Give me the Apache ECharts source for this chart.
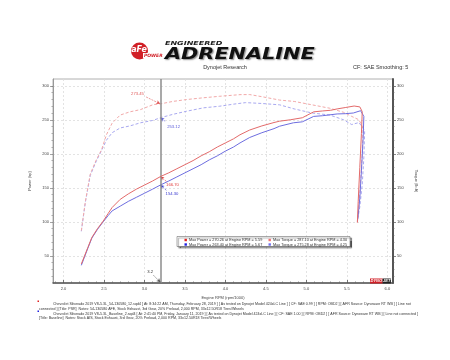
<!DOCTYPE html>
<html><head><meta charset="utf-8">
<script src="https://cdn.jsdelivr.net/npm/echarts@6/dist/echarts.min.js"></script>
<style>html,body{margin:0;padding:0;background:#fff}#c{width:450px;height:360px}</style>
</head><body><div id="c"></div>
<script>
// ---- data ----
const xMajor = [2.0,2.5,3.0,3.5,4.0,4.5,5.0,5.5,6.0];
const xMinor = [1.9,2.1,2.2,2.3,2.4,2.6,2.7,2.8,2.9,3.1,3.2,3.3,3.4,3.6,3.7,3.8,3.9,4.1,4.2,4.3,4.4,4.6,4.7,4.8,4.9,5.1,5.2,5.3,5.4,5.6,5.7,5.8,5.9,6.0];
const yMajor = [50,100,150,200,250,300];
const yMinor = [20,30,40,60,70,80,90,110,120,130,140,160,170,180,190,210,220,230,240,260,270,280,290,300];

const rpmPowA = [2.22,2.30,2.35,2.42,2.49,2.55,2.60,2.70,2.80,2.90,3.00,3.10,3.20,3.30,3.40,3.50,3.60,3.70,3.80,3.90,4.00,4.10,4.18,4.30,4.45,4.60,4.67,4.80,4.95,5.09,5.20,5.30,5.38,5.48,5.59,5.66,5.69,5.68,5.66,5.64,5.63];
const powA    = [38,62,77,90,101,112,121,133,141,148,154,160,166.7,172,178,184,190,197,203,210,216,222,228,235,241,246,248,250,253,261.7,263,264,266,268,270.26,269,262,230,180,130,99];

const rpmPowB = [2.22,2.30,2.35,2.42,2.49,2.55,2.60,2.70,2.80,2.90,3.00,3.10,3.20,3.30,3.40,3.50,3.60,3.70,3.80,3.90,4.00,4.10,4.18,4.30,4.45,4.60,4.67,4.84,4.95,5.09,5.20,5.38,5.48,5.58,5.67,5.71,5.70,5.68,5.66,5.64,5.63];
const powB    = [36,61,76,89,100,109,116,123,130,136,142,148,154.3,160,166,172,178,184,191,197,204,210,216,224,231,237,240.6,245.6,247,255,256,258.6,259,260,263.4,255,220,175,135,110,101];

const rpmTqA = [2.22,2.27,2.33,2.40,2.47,2.53,2.60,2.70,2.82,2.95,3.11,3.20,3.35,3.52,3.72,3.93,4.18,4.30,4.45,4.67,4.85,5.07,5.29,5.46,5.56,5.65,5.70,5.69,5.67,5.65,5.63];
const tqA    = [87,130,170,190,206,228,245,257,261.7,265,272.4,273.45,277,279.8,282.3,284.6,287,287.1,284,279,277,272,267,261,255,250,238,200,160,125,99];

const rpmTqB = [2.22,2.27,2.33,2.40,2.47,2.53,2.60,2.70,2.82,2.95,3.10,3.20,3.35,3.52,3.73,3.93,4.10,4.25,4.45,4.67,4.85,5.07,5.29,5.46,5.56,5.65,5.72,5.71,5.69,5.66,5.63];
const tqB    = [86,129,168,188,205,220,231,238,241,245.6,249,253.12,258,262.6,267.6,270,273,275.28,274,272,266,260,257,250,243,246,234,195,155,122,101];

const cursorRpm = 3.2;
const cursorVals = [273.45, 253.12, 166.70, 154.30];
const legendTexts = [
  'Max Power = 270.26 at Engine RPM = 5.59',
  'Max Power = 263.40 at Engine RPM = 5.67',
  'Max Torque = 287.10 at Engine RPM = 4.30',
  'Max Torque = 275.28 at Engine RPM = 4.25'
];
const footA1 = 'Chevrolet Silverado 2019 V8-5.3L_54-130580_12.sqd4 [ At: 8:34:22 AM, Thursday, February 28, 2019 ] [ As tested on Dynojet Model 424xLC Line ] [ CF: SAE 0.99 ] [ RPM: OBD2 ] [ AFR Source: Dynoware RT WB ] [ Line not';
const footA2 = 'connected ] [Title: PSR]  Notes: 54-130580 AFE, Stock Exhaust, 3rd Gear, 20% Preload, 2,000 RPM, 33x12.50R18 Tires/Wheels';
const footB1 = 'Chevrolet Silverado 2019 V8-5.3L_Baseline_2.sqd4 [ At: 2:41:40 PM, Friday, January 11, 2019 ] [ As tested on Dynojet Model 424xLC Line ] [ CF: SAE 1.00 ] [ RPM: OBD2 ] [ AFR Source: Dynoware RT WB ] [ Line not connected ]';
const footB2 = '[Title: Baseline]  Notes: Stock AIS, Stock Exhaust, 3rd Gear, 20% Preload, 2,000 RPM, 33x12.50R18 Tires/Wheels';

// ---- styles ----
const cRedP = '#e36a6a', cBlueP = '#6e6ee0', cRedT = '#f2a9a9', cBlueT = '#a9a9f0';
const FF = '"Liberation Sans", Arial, sans-serif';
const zip = (a,b) => a.map((v,i)=>[v,b[i]]);

function anno(val, lbl, from, color){
  return {
    markLine:{silent:true, symbol:['none','arrow'], symbolSize:[3,4], label:{show:false},
      lineStyle:{color:color, width:0.6, type:[2,1]},
      data:[[{coord:from},{coord:[cursorRpm-0.005,val]}]]},
    markPoint:{silent:true, symbol:'rect', symbolSize:1, itemStyle:{color:'rgba(0,0,0,0)'},
      label:{show:true, position:'inside', formatter: val.toFixed(2), color:color, fontSize:4.2, fontFamily:FF},
      data:[{coord:lbl, value: val}]}
  };
}
const axLbl = {fontSize:4, color:'#444', fontFamily:FF};
const chart = echarts.init(document.getElementById('c'), null, {renderer:'canvas'});
chart.setOption({
  animation:false,
  backgroundColor:'#fff',
  grid:{left:53, right:57, top:79, bottom:77, show:true, borderColor:'#b0b0b0', borderWidth:1},
  xAxis:[{
    type:'value', min:1.87, max:6.07, position:'bottom',
    name:'Engine RPM (rpm/1000)', nameLocation:'middle', nameGap:9,
    nameTextStyle:{fontSize:4, color:'#444', fontFamily:FF},
    axisLine:{show:true, lineStyle:{color:'#555', width:1.5}},
    axisTick:{show:true, inside:true, length:3, customValues:xMajor, lineStyle:{color:'#555', width:0.8}},
    axisLabel:Object.assign({customValues:xMajor, margin:4, formatter:v=>v.toFixed(1)}, axLbl),
    splitLine:{show:true, lineStyle:{color:'#dcdcdc', type:[2,2], width:0.8}}
  },{
    type:'value', min:1.87, max:6.07, position:'bottom',
    axisLine:{show:false}, axisLabel:{show:false}, splitLine:{show:false},
    axisTick:{show:true, inside:true, length:1.6, customValues:xMinor, lineStyle:{color:'#666', width:0.6}}
  }],
  yAxis:[{
    type:'value', min:10, max:310, position:'left',
    name:'Power (hp)', nameLocation:'middle', nameGap:13, nameRotate:90,
    nameTextStyle:{fontSize:4, color:'#444', fontFamily:FF},
    axisLine:{show:true, lineStyle:{color:'#999', width:1}},
    axisTick:{show:true, length:3, customValues:yMajor, lineStyle:{color:'#666', width:0.6}},
    axisLabel:Object.assign({customValues:yMajor, margin:4}, axLbl),
    splitLine:{show:true, lineStyle:{color:'#dcdcdc', type:[2,2], width:0.8}}
  },{
    type:'value', min:10, max:310, position:'left',
    axisLine:{show:false}, axisLabel:{show:false}, splitLine:{show:false},
    axisTick:{show:true, length:1.6, customValues:yMinor, lineStyle:{color:'#777', width:0.5}}
  },{
    type:'value', min:10, max:310, position:'right',
    name:'Torque (lb-ft)', nameLocation:'middle', nameGap:13, nameRotate:-90,
    nameTextStyle:{fontSize:4, color:'#444', fontFamily:FF},
    axisLine:{show:true, lineStyle:{color:'#555', width:2}},
    axisTick:{show:true, length:3, customValues:yMajor, lineStyle:{color:'#555', width:0.7}},
    axisLabel:Object.assign({customValues:yMajor, margin:4}, axLbl),
    splitLine:{show:false}
  },{
    type:'value', min:10, max:310, position:'right',
    axisLine:{show:false}, axisLabel:{show:false}, splitLine:{show:false},
    axisTick:{show:true, length:1.6, customValues:yMinor, lineStyle:{color:'#666', width:0.5}}
  }],
  series:[
    Object.assign({type:'line', name:'TqB', xAxisIndex:0, yAxisIndex:2, data:zip(rpmTqB,tqB), symbol:'none', z:2,
      lineStyle:{color:cBlueT, width:1, type:[3,2]}}, anno(cursorVals[1], [3.36,239.7], [3.255,247.9], '#5a5ad8')),
    Object.assign({type:'line', name:'TqA', xAxisIndex:0, yAxisIndex:2, data:zip(rpmTqA,tqA), symbol:'none', z:3,
      lineStyle:{color:cRedT, width:1, type:[3,2]}}, anno(cursorVals[0], [2.914,288.1], [3.02,283.6], '#e05a5a')),
    Object.assign({type:'line', name:'PowB', xAxisIndex:0, yAxisIndex:0, data:zip(rpmPowB,powB), symbol:'none', z:4,
      lineStyle:{color:cBlueP, width:1}}, anno(cursorVals[3], [3.34,140.5], [3.27,146.3], '#3a3ad0')),
    Object.assign({type:'line', name:'PowA', xAxisIndex:0, yAxisIndex:0, data:zip(rpmPowA,powA), symbol:'none', z:5,
      lineStyle:{color:cRedP, width:1}}, anno(cursorVals[2], [3.346,153.7], [3.27,159.5], '#e03a3a')),
    {type:'line', name:'cursor', xAxisIndex:0, yAxisIndex:0, data:[], z:1,
      markLine:{silent:true, symbol:'none', label:{show:false}, lineStyle:{color:'#8c8c8c', width:1.5, type:'solid'},
        data:[{xAxis:cursorRpm}]}},
    {type:'line', name:'cursorLbl', xAxisIndex:0, yAxisIndex:0, data:[], z:6,
      markLine:{silent:true, symbol:['none','arrow'], symbolSize:[3,4], label:{show:false},
        lineStyle:{color:'#555', width:0.6, type:[2,1]},
        data:[[{coord:[3.11,21.5]},{coord:[cursorRpm-0.003,11]}]]},
      markPoint:{silent:true, symbol:'rect', symbolSize:1, itemStyle:{color:'rgba(0,0,0,0)'},
        label:{show:true, position:'inside', formatter:String(cursorRpm), color:'#333', fontSize:4.2, fontFamily:FF},
        data:[{coord:[3.07,25.7], value:cursorRpm}]}}
  ],
  graphic:[
    // logo
    {type:'circle', shape:{cx:139.5, cy:51, r:8.5}, style:{fill:'#d11f26'}},
    {type:'text', x:139, y:50, style:{text:'aFe', fill:'#fff', font:'italic bold 8px "DejaVu Sans"', align:'center', verticalAlign:'middle'}},
    {type:'text', x:143, y:55.5, style:{text:'POWER', fill:'#d11f26', font:'italic bold 4.5px "DejaVu Sans"', verticalAlign:'middle', backgroundColor:'#fff', padding:[0,1]}},
    {type:'text', x:165, y:44, scaleX:1.45, style:{text:'ENGINEERED', fill:'#222', font:'italic bold 5.5px "DejaVu Sans"', verticalAlign:'middle'}},
    {type:'text', x:165, y:55, scaleX:1.3, style:{text:'ADRENALINE', fill:'#111', font:'italic bold 16px "DejaVu Sans"', verticalAlign:'middle',
      textShadowColor:'rgba(0,0,0,0.45)', textShadowOffsetX:1.2, textShadowOffsetY:1.2, textShadowBlur:1.5}},
    {type:'text', x:225, y:67.5, style:{text:'Dynojet Research', fill:'#333', font:'5.5px '+FF, align:'center', verticalAlign:'middle'}},
    {type:'text', x:353, y:67.5, style:{text:'CF: SAE Smoothing: 5', fill:'#333', font:'5.5px '+FF, verticalAlign:'middle'}},
    // legend box
    {type:'rect', z:10, shape:{x:177, y:236.5, width:173, height:10}, style:{fill:'#fff', stroke:'#555', lineWidth:0.5,
      shadowColor:'rgba(0,0,0,0.6)', shadowOffsetX:1.5, shadowOffsetY:1.5, shadowBlur:1}},
    {type:'rect', z:11, shape:{x:184.5, y:238.8, width:2.4, height:2.4}, style:{fill:'#e02020'}},
    {type:'rect', z:11, shape:{x:184.5, y:243.3, width:2.4, height:2.4}, style:{fill:'#2020e0'}},
    {type:'rect', z:11, shape:{x:268.5, y:238.8, width:2.4, height:2.4}, style:{fill:'#f07070'}},
    {type:'rect', z:11, shape:{x:268.5, y:243.3, width:2.4, height:2.4}, style:{fill:'#7070f0'}},
    {type:'text', z:11, x:189, y:240, style:{text:legendTexts[0], fill:'#333', font:'3.8px '+FF, verticalAlign:'middle'}},
    {type:'text', z:11, x:189, y:244.5, style:{text:legendTexts[1], fill:'#333', font:'3.8px '+FF, verticalAlign:'middle'}},
    {type:'text', z:11, x:273, y:240, style:{text:legendTexts[2], fill:'#333', font:'3.8px '+FF, verticalAlign:'middle'}},
    {type:'text', z:11, x:273, y:244.5, style:{text:legendTexts[3], fill:'#333', font:'3.8px '+FF, verticalAlign:'middle'}},
    // dynojet mark
    {type:'text', z:11, x:370, y:281, style:{rich:{a:{backgroundColor:'#d11f26', fill:'#fff', font:'italic bold 4px '+FF, padding:[0.5,0.5]},
      b:{backgroundColor:'#222', fill:'#fff', font:'italic bold 4px '+FF, padding:[0.5,0.5]}}, text:'{a|DYNO}{b|JET}', verticalAlign:'middle'}},
    // footer
    {type:'rect', shape:{x:37.5, y:300.5, width:1.5, height:1.5}, style:{fill:'#e02020'}},
    {type:'rect', shape:{x:37.5, y:310.5, width:1.5, height:1.5}, style:{fill:'#2020e0'}},
    {type:'text', x:53, y:304, style:{text:footA1, fill:'#333', font:'3.6px '+FF, verticalAlign:'middle'}},
    {type:'text', x:39, y:308.8, style:{text:footA2, fill:'#333', font:'3.6px '+FF, verticalAlign:'middle'}},
    {type:'text', x:53, y:313.6, style:{text:footB1, fill:'#333', font:'3.6px '+FF, verticalAlign:'middle'}},
    {type:'text', x:39, y:317.6, style:{text:footB2, fill:'#333', font:'3.6px '+FF, verticalAlign:'middle'}}
  ]
});
</script>
</body></html>
